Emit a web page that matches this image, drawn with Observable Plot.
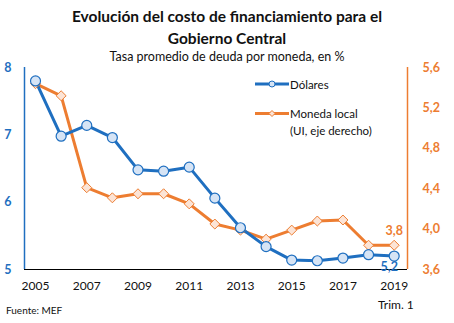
<!DOCTYPE html>
<html><head><meta charset="utf-8">
<script src="https://cdn.jsdelivr.net/npm/d3@7"></script>
<script src="https://cdn.jsdelivr.net/npm/@observablehq/plot@0.6"></script>
<style>
body{margin:0;background:#fff;font-family:Lato,"Open Sans",sans-serif;}
#wrap{position:relative;width:454px;height:323px;overflow:hidden;}
.t{position:absolute;left:0;width:454px;text-align:center;color:#111;}
#title{top:5px;font-size:15.5px;font-weight:bold;line-height:22px;}
#sub{top:49px;font-size:12.5px;}
#chart{position:absolute;left:0;top:60px;}
#trim{position:absolute;left:378px;top:297px;font-size:12px;color:#111;}
#src{position:absolute;left:6px;top:304px;font-size:10px;color:#111;}
.lg{position:absolute;font-size:11.5px;color:#111;line-height:17px;}
</style></head>
<body><div id="wrap">
<div class="t" id="title">Evolución del costo de financiamiento para el<br>Gobierno Central</div>
<div class="t" id="sub">Tasa promedio de deuda por moneda, en %</div>
<div id="chart"></div>
<div id="trim">Trim. 1</div>
<div id="src">Fuente: MEF</div>
<svg style="position:absolute;left:254px;top:78px" width="36" height="60">
<line x1="1" y1="6" x2="35" y2="6" stroke="#1F6FC0" stroke-width="3"/>
<circle cx="18" cy="6" r="3" fill="#D6E4F5" stroke="#1F6FC0" stroke-width="1"/>
<line x1="1" y1="35.5" x2="35" y2="35.5" stroke="#ED7D31" stroke-width="3"/>
<path d="M18,32.5L21,35.5L18,38.5L15,35.5Z" fill="#FCE4D6" stroke="#ED7D31" stroke-width="1"/>
</svg>
<div class="lg" style="left:290px;top:76px">Dólares</div>
<div class="lg" style="left:290px;top:105px">Moneda local<br>(UI, eje derecho)</div>
</div>
<script>
const years = [2005,2006,2007,2008,2009,2010,2011,2012,2013,2014,2015,2016,2017,2018,2019];
const dolares = [7.80,6.98,7.14,6.96,6.48,6.46,6.52,6.06,5.62,5.34,5.14,5.13,5.17,5.22,5.20];
const monedaLocal = [5.44,5.32,4.41,4.31,4.35,4.35,4.25,4.05,3.99,3.90,3.99,4.08,4.09,3.84,3.84];
const xTicks = [2005,2007,2009,2011,2013,2015,2017,2019];
const leftTicks = [5,6,7,8];
const rightTicks = [3.6,4.0,4.4,4.8,5.2,5.6];

const BLUE = "#1F6FC0", ORANGE = "#ED7D31";
const leftDomain = [5, 8], rightDomain = [3.6, 5.6];
const k = (leftDomain[1]-leftDomain[0])/(rightDomain[1]-rightDomain[0]);
const toLeft = r => leftDomain[0] + (r - rightDomain[0]) * k;
const toRight = l => rightDomain[0] + (l - leftDomain[0]) / k;
const comma = v => d3.format(".1f")(v).replace(".", ",");
const xDomain = [2004.57, 2019.52];

const blue = years.map((y,i)=>({year:y, v:dolares[i]}));
const orange = years.map((y,i)=>({year:y, v:toLeft(monedaLocal[i]), raw:monedaLocal[i]}));
const lastB = blue[blue.length-1], lastO = orange[orange.length-1];

const chart = Plot.plot({
  width: 454, height: 240,
  marginLeft: 24, marginRight: 47, marginTop: 7, marginBottom: 31,
  style: {fontFamily: "Lato, 'Open Sans', sans-serif", background: "transparent"},
  x: {domain: xDomain},
  y: {domain: leftDomain},
  marks: [
    Plot.axisX({ticks: xTicks, tickSize: 0, tickPadding: 12, tickFormat: d => String(d), fontSize: 12, fill: "#111", label: null}),
    Plot.axisY({ticks: leftTicks, tickSize: 0, tickPadding: 13, tickFormat: d => String(d), fontSize: 12.5, fontWeight: "bold", fill: BLUE, label: null}),
    Plot.axisY({anchor: "right", ticks: rightTicks.map(toLeft), tickFormat: v => comma(toRight(v)), tickSize: 0, tickPadding: 15, textAnchor: "start", fontSize: 12.5, fontWeight: "bold", fill: ORANGE, label: null}),
    Plot.ruleX([xDomain[0]], {stroke: BLUE, strokeWidth: 1.5}),
    Plot.ruleX([xDomain[1]], {stroke: ORANGE, strokeWidth: 1.5}),
    Plot.ruleY([leftDomain[0]], {stroke: "#000", strokeWidth: 1.2}),
    Plot.line(orange, {x: "year", y: "v", stroke: ORANGE, strokeWidth: 3}),
    Plot.line(blue, {x: "year", y: "v", stroke: BLUE, strokeWidth: 3}),
    Plot.dot(orange, {x: "year", y: "v", symbol: "diamond2", r: 4.5, fill: "#FCE4D6", stroke: ORANGE, strokeWidth: 1}),
    Plot.dot(blue, {x: "year", y: "v", r: 5, fill: "#D6E4F5", stroke: BLUE, strokeWidth: 1.2}),
    Plot.text([lastO], {x: "year", y: "v", text: d => comma(d.raw), dy: -14, fill: ORANGE, fontWeight: "bold", fontSize: 12.5}),
    Plot.text([lastB], {x: "year", y: "v", text: d => comma(d.v), dx: -5, dy: 11, fill: BLUE, fontWeight: "bold", fontSize: 12.5})
  ]
});
document.getElementById("chart").appendChild(chart);
</script>
</body></html>
